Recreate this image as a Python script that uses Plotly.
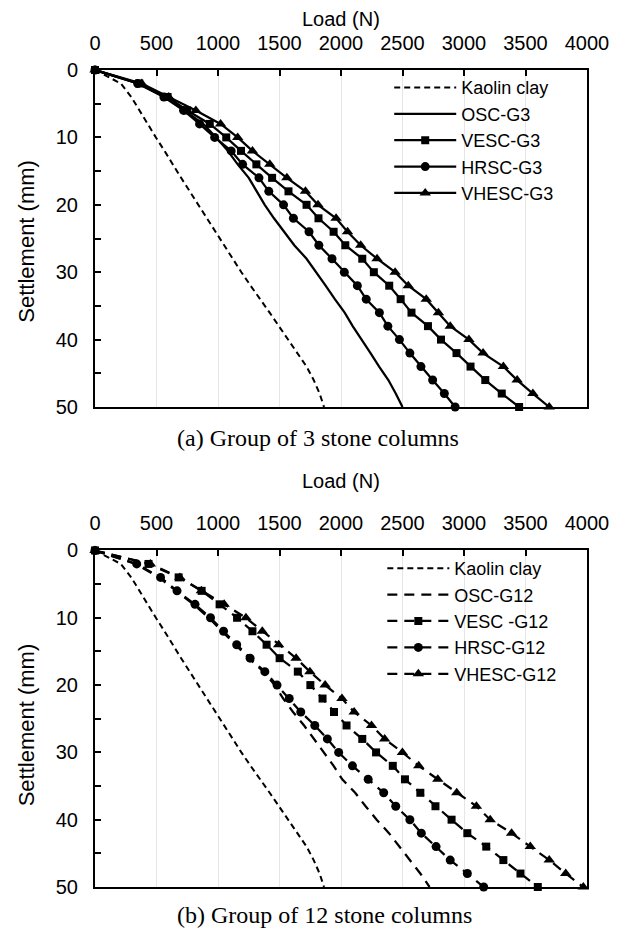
import plotly.graph_objects as go

# ---------------- data ----------------
settlement = [0, 2, 4, 6, 8, 10, 12, 14, 16, 18, 20, 22, 24, 26, 28, 30,
              32, 34, 36, 38, 40, 42, 44, 46, 48, 50]

kaolin_settlement = [0, 1, 2, 4, 6, 8, 10, 12, 14, 16, 18, 20, 22, 24, 26, 28,
                     30, 32, 34, 36, 38, 40, 42, 44, 46, 48, 50]
kaolin_load = [0, 110, 210, 295, 360, 430, 495, 565, 630, 700, 770, 840, 905,
               975, 1045, 1120, 1190, 1265, 1345, 1420, 1495, 1570, 1648,
               1720, 1778, 1826, 1862]

# Group of 3 stone columns
osc_g3 = [0, 350, 570, 730, 880, 985, 1080, 1160, 1250, 1315, 1380, 1455,
          1540, 1620, 1720, 1800, 1875, 1950, 2030, 2095, 2170, 2240, 2310,
          2385, 2445, 2500]
vesc_g3 = [0, 360, 590, 750, 933, 1067, 1187, 1312, 1440, 1573, 1720, 1817,
           1940, 2035, 2173, 2267, 2392, 2485, 2573, 2707, 2813, 2939, 3053,
           3173, 3307, 3448]
hrsc_g3 = [0, 347, 560, 720, 850, 973, 1107, 1200, 1333, 1413, 1533, 1613,
           1740, 1820, 1927, 2027, 2133, 2205, 2312, 2381, 2475, 2560, 2650,
           2745, 2840, 2928]
vhesc_g3 = [0, 380, 600, 820, 1021, 1160, 1280, 1421, 1560, 1711, 1813, 1960,
            2053, 2160, 2293, 2440, 2547, 2693, 2792, 2888, 3040, 3155, 3320,
            3432, 3560, 3693]

# Group of 12 stone columns
osc_g12 = [0, 330, 520, 660, 800, 925, 1035, 1140, 1250, 1370, 1460, 1530,
           1610, 1700, 1780, 1860, 1940, 2010, 2115, 2200, 2290, 2390, 2475,
           2560, 2645, 2720]
vesc_g12 = [0, 435, 680, 867, 1013, 1155, 1280, 1395, 1501, 1649, 1751, 1850,
            1943, 2045, 2173, 2285, 2421, 2520, 2645, 2768, 2899, 3027, 3181,
            3320, 3459, 3600]
hrsc_g12 = [0, 339, 533, 667, 813, 939, 1045, 1152, 1261, 1381, 1480, 1579,
            1673, 1787, 1889, 1981, 2093, 2221, 2347, 2445, 2560, 2653, 2773,
            2888, 3027, 3160]
vhesc_g12 = [0, 450, 690, 865, 1050, 1227, 1360, 1493, 1635, 1747, 1871, 2008,
             2107, 2248, 2355, 2499, 2632, 2787, 2941, 3101, 3213, 3387, 3539,
             3693, 3827, 3970]

x_ticks = [0, 500, 1000, 1500, 2000, 2500, 3000, 3500, 4000]
y_ticks = [0, 10, 20, 30, 40, 50]

names_g3 = ["Kaolin clay", "OSC-G3", "VESC-G3", "HRSC-G3", "VHESC-G3"]
names_g12 = ["Kaolin clay", "OSC-G12", "VESC -G12", "HRSC-G12", "VHESC-G12"]

# ---------------- figure ----------------
FONT = "Arial, Liberation Sans, sans-serif"
SERIF = "Times New Roman, Liberation Serif, serif"
SHORT = "6px,4px"
LONG = "10px,7px"

fig = go.Figure()


def add(x, y, name, xa, ya, leg, dash, symbol=None, lw=2.25):
    mode = "lines+markers" if symbol else "lines"
    fig.add_trace(go.Scatter(
        x=x, y=y, name=name, mode=mode, xaxis=xa, yaxis=ya, legend=leg,
        line=dict(color="black", width=lw, dash=dash),
        marker=dict(symbol=symbol or "circle", color="black",
                    size={"square": 8, "circle": 9, "triangle-up": 10}.get(symbol, 6)),
        cliponaxis=False))


# top panel
add(kaolin_load, kaolin_settlement, names_g3[0], "x", "y", "legend", SHORT, lw=2)
add(osc_g3, settlement, names_g3[1], "x", "y", "legend", "solid")
add(vesc_g3, settlement, names_g3[2], "x", "y", "legend", "solid", "square")
add(hrsc_g3, settlement, names_g3[3], "x", "y", "legend", "solid", "circle")
add(vhesc_g3, settlement, names_g3[4], "x", "y", "legend", "solid", "triangle-up")

# bottom panel
add(kaolin_load, kaolin_settlement, names_g12[0], "x2", "y2", "legend2", SHORT, lw=2)
add(osc_g12, settlement, names_g12[1], "x2", "y2", "legend2", LONG)
add(vesc_g12, settlement, names_g12[2], "x2", "y2", "legend2", LONG, "square")
add(hrsc_g12, settlement, names_g12[3], "x2", "y2", "legend2", LONG, "circle")
add(vhesc_g12, settlement, names_g12[4], "x2", "y2", "legend2", LONG, "triangle-up")

xaxis_common = dict(
    range=[0, 4000], tickvals=x_ticks, side="top", ticks="inside", ticklen=6,
    tickwidth=1.5, tickcolor="black", showline=True, linewidth=2,
    linecolor="black", mirror=True, showgrid=True, gridcolor="#e6e6e6",
    gridwidth=1, zeroline=False, tickfont=dict(family=FONT, size=20, color="black"),
    ticklabelstandoff=10, fixedrange=True)
yaxis_common = dict(
    range=[50, 0], tickvals=y_ticks, ticks="inside", ticklen=6, tickwidth=1.5,
    tickcolor="black", showline=True, linewidth=2, linecolor="black",
    mirror=True, showgrid=False, zeroline=False,
    minor=dict(dtick=5, ticks="inside", ticklen=6, tickwidth=1.5,
               tickcolor="black", showgrid=False),
    tickfont=dict(family=FONT, size=20, color="black"),
    ticklabelstandoff=11, fixedrange=True)

legend_common = dict(
    font=dict(family=FONT, size=18, color="black"), bgcolor="rgba(0,0,0,0)",
    borderwidth=0, xanchor="left", yanchor="top", tracegroupgap=0,
    itemwidth=62)

# The page body adds an 8px margin, so the figure is sized to fill the
# remaining window exactly.
fig.update_layout(
    width=613, height=925,
    margin=dict(l=87, r=26, t=62, b=46),
    paper_bgcolor="white", plot_bgcolor="white",
    xaxis=dict(domain=[0, 1], anchor="y", **xaxis_common),
    yaxis=dict(domain=[0.5875, 1], anchor="x", **yaxis_common),
    xaxis2=dict(domain=[0, 1], anchor="y2", **xaxis_common),
    yaxis2=dict(domain=[0, 0.4119], anchor="x2", **yaxis_common),
    legend=dict(x=0.598, y=1.001, **legend_common),
    legend2=dict(x=0.584, y=0.4125, **legend_common),
    showlegend=True,
    annotations=[
        dict(text="Load (N)", xref="paper", yref="paper", x=0.5, y=1.062,
             showarrow=False, font=dict(family=FONT, size=20, color="black"),
             xanchor="center", yanchor="middle"),
        dict(text="Load (N)", xref="paper", yref="paper", x=0.5, y=0.497,
             showarrow=False, font=dict(family=FONT, size=20, color="black"),
             xanchor="center", yanchor="middle"),
        dict(text="Settlement (mm)", xref="paper", yref="paper", x=-0.14,
             y=0.79, textangle=-90, showarrow=False,
             font=dict(family=FONT, size=22, color="black"),
             xanchor="center", yanchor="middle"),
        dict(text="Settlement (mm)", xref="paper", yref="paper", x=-0.14,
             y=0.198, textangle=-90, showarrow=False,
             font=dict(family=FONT, size=22, color="black"),
             xanchor="center", yanchor="middle"),
        dict(text="(a) Group of 3 stone columns", xref="paper", yref="paper",
             x=0.454, y=0.549, showarrow=False,
             font=dict(family=SERIF, size=24, color="black"),
             xanchor="center", yanchor="middle"),
        dict(text="(b) Group of 12 stone columns", xref="paper", yref="paper",
             x=0.466, y=-0.034, showarrow=False,
             font=dict(family=SERIF, size=24, color="black"),
             xanchor="center", yanchor="middle"),
    ],
)

fig.write_html("out.html")
